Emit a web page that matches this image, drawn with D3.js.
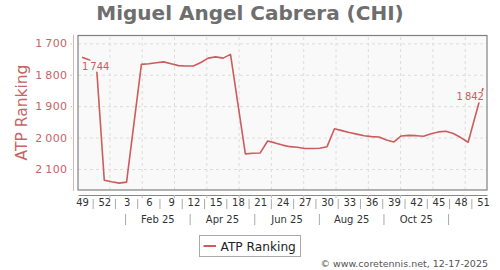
<!DOCTYPE html>
<html lang="en">
<meta charset="utf-8">
<style>
body { margin: 0; background: #fff; }
svg text { font-family: "DejaVu Sans", sans-serif; }
.grid line { stroke: #dcdcdc; stroke-dasharray: 3,3; }
.grid path { display: none; }
</style>
<div id="chart"></div>
<script src="https://d3js.org/d3.v7.min.js"></script>
<script>
"use strict";

// week labels shown under the axis (every third week, 49 of 2024 .. 51 of 2025)
const weekLabels = ["49","52","3","6","9","12","15","18","21","24","27","30","33","36","39","42","45","48","51"];
const monthLabels = ["Feb 25","Apr 25","Jun 25","Aug 25","Oct 25"];
const rankTicks = [1700, 1800, 1900, 2000, 2100];

// ATP ranking per week, index 0 = week 49 (2024); null = no ranking that week
const ranking = [
  1744, 1753, 1790, 2136, 2141, 2145, 2142, null, 1767, 1765,
  1762, 1759, 1765, 1771, 1772, 1772, 1761, 1747, 1743, 1747,
  1735, null, 2052, 2050, 2049, 2011, 2017, 2024, 2029, 2031,
  2035, 2035, 2034, 2029, 1972, 1978, 1984, 1989, 1994, 1997,
  1998, 2008, 2014, 1995, 1993, 1994, 1996, 1988, 1982, 1980,
  1987, 2000, 2015, null, 1842
];

const W = 500, H = 270;
const plot = {left: 78, right: 487, top: 35.5, bottom: 190};
const lineColor = "#cd5c5c";
const fmt = v => d3.format(",")(v).replace(",", "\u2009");

const svg = d3.select("#chart").append("svg")
    .attr("width", W)
    .attr("height", H);

const x = d3.scaleLinear()
    .domain([-0.54, 54.54])
    .range([plot.left, plot.right]);

const y = d3.scaleLinear()
    .domain([1675, 2167])
    .range([plot.top, plot.bottom]);

// month grid, evenly spaced (one average month = 4.35 weeks)
const gridIdx = d3.range(12).map(k => 3.69 + k * 4.35);

// title
svg.append("text")
    .attr("x", 250).attr("y", 20)
    .attr("text-anchor", "middle")
    .style("font-size", "20px")
    .style("font-weight", "bold")
    .attr("fill", "#6e6e6e")
    .text("Miguel Angel Cabrera (CHI)");

// plot background
svg.append("rect")
    .attr("x", plot.left).attr("y", plot.top)
    .attr("width", plot.right - plot.left)
    .attr("height", plot.bottom - plot.top)
    .attr("fill", "#f9f9f9");

// grid lines
svg.append("g").attr("class", "grid")
    .attr("transform", "translate(0," + plot.bottom + ")")
    .call(d3.axisBottom(x).tickValues(gridIdx).tickSize(-(plot.bottom - plot.top)).tickFormat(""));

svg.append("g").attr("class", "grid")
    .attr("transform", "translate(" + plot.left + ",0)")
    .call(d3.axisLeft(y).tickValues(rankTicks).tickSize(-(plot.right - plot.left)).tickFormat(""));

// ranking line
const pts = ranking.map((v, i) => ({i: i, v: v})).filter(d => d.v !== null);

svg.append("path")
    .datum(pts)
    .attr("fill", "none")
    .attr("stroke", lineColor)
    .attr("stroke-width", 1.6)
    .attr("stroke-linejoin", "round")
    .attr("d", d3.line().x(d => x(d.i)).y(d => y(d.v)));

// first / last value labels
const first = pts[0], last = pts[pts.length - 1];
[[first, "start"], [last, "end"]].forEach(function(p) {
  const d = p[0];
  const g = svg.append("g");
  const t = g.append("text")
      .attr("x", x(d.i) + (p[1] === "start" ? 0 : 1))
      .attr("y", y(d.v) + 12.5)
      .attr("text-anchor", p[1])
      .style("font-size", "10px")
      .attr("fill", lineColor)
      .text(fmt(d.v));
  const bb = t.node().getBBox();
  g.insert("rect", "text")
      .attr("x", bb.x - 1).attr("y", bb.y)
      .attr("width", bb.width + 2).attr("height", bb.height)
      .attr("fill", "#f9f9f9");
});

// plot frame
svg.append("rect")
    .attr("x", plot.left).attr("y", plot.top)
    .attr("width", plot.right - plot.left)
    .attr("height", plot.bottom - plot.top)
    .attr("fill", "none")
    .attr("stroke", "#808080")
    .attr("stroke-width", 1.2);

// y axis
const yAxis = svg.append("g")
    .attr("transform", "translate(73.5,0)")
    .call(d3.axisLeft(y).tickValues(rankTicks).tickSize(3).tickPadding(3).tickFormat(fmt));
yAxis.select(".domain").attr("stroke", "#e2b4b4").attr("d", "M0," + (plot.top - 1) + "V" + (plot.bottom + 1));
yAxis.selectAll(".tick line").attr("stroke", "#e2b4b4").attr("x1", -1.5);
yAxis.selectAll("text")
    .style("font-size", "11px")
    .style("letter-spacing", "0.4px")
    .attr("fill", "#c86464");

svg.append("text")
    .attr("transform", "translate(27," + 112.5 + ") rotate(-90)")
    .attr("text-anchor", "middle")
    .style("font-size", "15.5px")
    .attr("fill", "#c86464")
    .text("ATP Ranking");

// x axis line with month ticks
const xAxis = svg.append("g")
    .attr("transform", "translate(0,195)")
    .call(d3.axisBottom(x).tickValues(gridIdx).tickSize(3).tickSizeOuter(0).tickFormat(""));
xAxis.select(".domain").attr("stroke", "#888").attr("stroke-width", 1.2);
xAxis.selectAll(".tick line").attr("stroke", "#bbb");

// week labels
const weekIdx = weekLabels.map((w, k) => k * 3);
const wAxis = svg.append("g")
    .attr("transform", "translate(0,199)")
    .call(d3.axisBottom(x).tickValues(weekIdx).tickSize(0).tickPadding(0)
      .tickFormat((d, k) => weekLabels[k]));
wAxis.select(".domain").remove();
wAxis.selectAll("text").style("font-size", "10px").attr("fill", "#333");

svg.append("g").selectAll("line")
    .data(weekIdx.slice(0, -1))
    .join("line")
    .attr("x1", d => x(d + 1.5)).attr("x2", d => x(d + 1.5))
    .attr("y1", 199).attr("y2", 209)
    .attr("stroke", "#aaa");

// month labels between separators
const sepIdx = d3.range(6).map(j => (gridIdx[2 * j] + gridIdx[2 * j + 1]) / 2);
svg.append("g").selectAll("line")
    .data(sepIdx)
    .join("line")
    .attr("x1", d => x(d)).attr("x2", d => x(d))
    .attr("y1", 214).attr("y2", 225)
    .attr("stroke", "#aaa");

svg.append("g").selectAll("text")
    .data(monthLabels)
    .join("text")
    .attr("x", (d, j) => x((sepIdx[j] + sepIdx[j + 1]) / 2))
    .attr("y", 223)
    .attr("text-anchor", "middle")
    .style("font-size", "10px")
    .attr("fill", "#333")
    .text(d => d);

// legend
const leg = svg.append("g").attr("transform", "translate(199.5,235.5)");
leg.append("rect")
    .attr("width", 101).attr("height", 21)
    .attr("fill", "#fff").attr("stroke", "#aaa");
leg.append("line")
    .attr("x1", 4).attr("x2", 16.5).attr("y1", 10.5).attr("y2", 10.5)
    .attr("stroke", lineColor).attr("stroke-width", 2);
leg.append("text")
    .attr("x", 21).attr("y", 15)
    .style("font-size", "12.2px")
    .attr("fill", "#222")
    .text("ATP Ranking");

// source
svg.append("text")
    .attr("x", 488).attr("y", 267)
    .attr("text-anchor", "end")
    .style("font-size", "9.5px")
    .attr("fill", "#555")
    .text("\u00a9 www.coretennis.net, 12-17-2025");
</script>
</html>
